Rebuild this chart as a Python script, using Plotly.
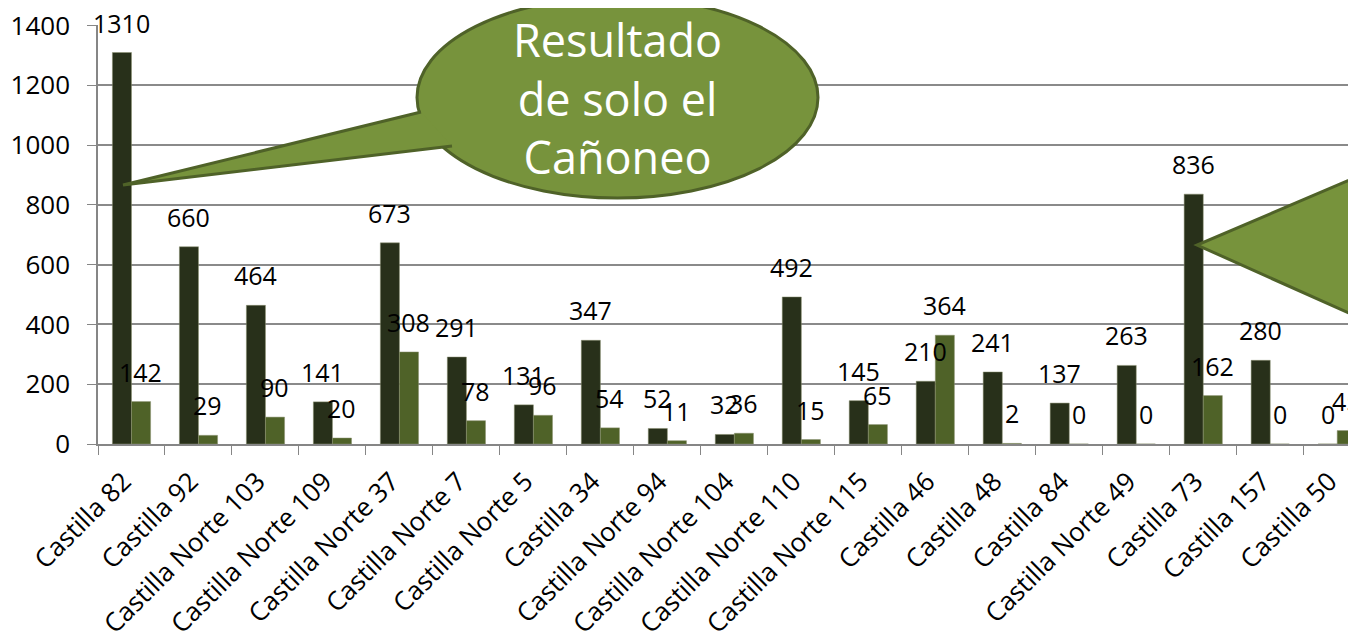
import plotly.graph_objects as go

categories = ["Castilla 82", "Castilla 92", "Castilla Norte 103", "Castilla Norte 109",
              "Castilla Norte 37", "Castilla Norte 7", "Castilla Norte 5", "Castilla 34",
              "Castilla Norte 94", "Castilla Norte 104", "Castilla Norte 110",
              "Castilla Norte 115", "Castilla 46", "Castilla 48", "Castilla 84",
              "Castilla Norte 49", "Castilla 73", "Castilla 157", "Castilla 50"]
serie_oscura = [1310, 660, 464, 141, 673, 291, 131, 347, 52, 32, 492, 145, 210, 241, 137, 263, 836, 280, 0]
serie_verde = [142, 29, 90, 20, 308, 78, 96, 54, 11, 36, 15, 65, 364, 2, 0, 0, 162, 0, 45]

callout_text = "Resultado<br>de solo el<br>Cañoneo"

# the page body adds 8px around the figure
OFF = 8
W, H = 1356, 634
L, T = 98 - OFF, 25 - OFF
plot_bottom = 444 - OFF
B = H - plot_bottom


def px(x, y):
    # pixel position in the screenshot -> paper coords
    x, y = x - OFF, y - OFF
    return (x - L) / (W - L), (plot_bottom - y) / (plot_bottom - T)


fig = go.Figure()
fig.add_trace(go.Bar(x=categories, y=serie_oscura, marker=dict(color="#28301a", line=dict(color="#8a9170", width=0.5))))
fig.add_trace(go.Bar(x=categories, y=serie_verde, marker=dict(color="#4f6228", line=dict(color="#8a9170", width=0.5))))

# data labels
for vals, shift in ((serie_oscura, -9.5), (serie_verde, 9.5)):
    for c, v in zip(categories, vals):
        fig.add_annotation(x=c, y=v, xref="x", yref="y", text=str(v), showarrow=False,
                           xanchor="center", yanchor="middle",
                           xshift=shift, yshift=30, font=dict(size=25, color="black"))

fill = "#77933c"
edge = "#4f6228"

# callout 1: ellipse + tail
ex0, ey0 = px(417, -3)
ex1, ey1 = px(818, 198)
fig.add_shape(type="circle", xref="paper", yref="paper", x0=ex0, x1=ex1, y0=ey1, y1=ey0,
              fillcolor=fill, line=dict(color=edge, width=3))
a = px(421, 112)
b = px(123, 185)
c = px(452, 146)
fig.add_shape(type="path", xref="paper", yref="paper",
              path=f"M {a[0]} {a[1]} L {b[0]} {b[1]} L {c[0]} {c[1]}",
              fillcolor=fill, line=dict(color=edge, width=3))
tx, ty = px(617, 98)
fig.add_annotation(x=tx, y=ty, xref="paper", yref="paper", text=callout_text, showarrow=False,
                   xanchor="center", yanchor="middle",
                   font=dict(size=45, color="white"), align="center")

# callout 2 (cut off on the right)
p1 = px(1420, 150)
p2 = px(1197, 245)
p3 = px(1420, 345)
fig.add_shape(type="path", xref="paper", yref="paper",
              path=f"M {p1[0]} {p1[1]} L {p2[0]} {p2[1]} L {p3[0]} {p3[1]} Z",
              fillcolor=fill, line=dict(color=edge, width=3))

fig.update_layout(
    width=W, height=H,
    margin=dict(l=L, r=0, t=T, b=B, autoexpand=False),
    barmode="group", bargap=0.43, bargroupgap=0,
    showlegend=False,
    plot_bgcolor="white", paper_bgcolor="white",
    font=dict(family="Open Sans", color="black"),
)
fig.update_xaxes(range=[-0.5, 18.4], tickangle=-45, tickfont=dict(size=26),
                 ticks="outside", tickson="boundaries", ticklen=9, tickcolor="#868686",
                 ticklabelshift=-8, ticklabelstandoff=10, automargin=False,
                 showline=True, linecolor="#868686", linewidth=1.5, showgrid=False)
fig.update_yaxes(range=[0, 1402], dtick=200, tickfont=dict(size=26),
                 ticks="outside", ticklen=9, tickcolor="#868686",
                 ticklabelstandoff=12, ticklabeloverflow="allow", automargin=False,
                 showline=True, linecolor="#868686", linewidth=1.5,
                 showgrid=True, gridcolor="#8a8a8a", gridwidth=1.5, zeroline=False)

fig.write_html("out.html")
